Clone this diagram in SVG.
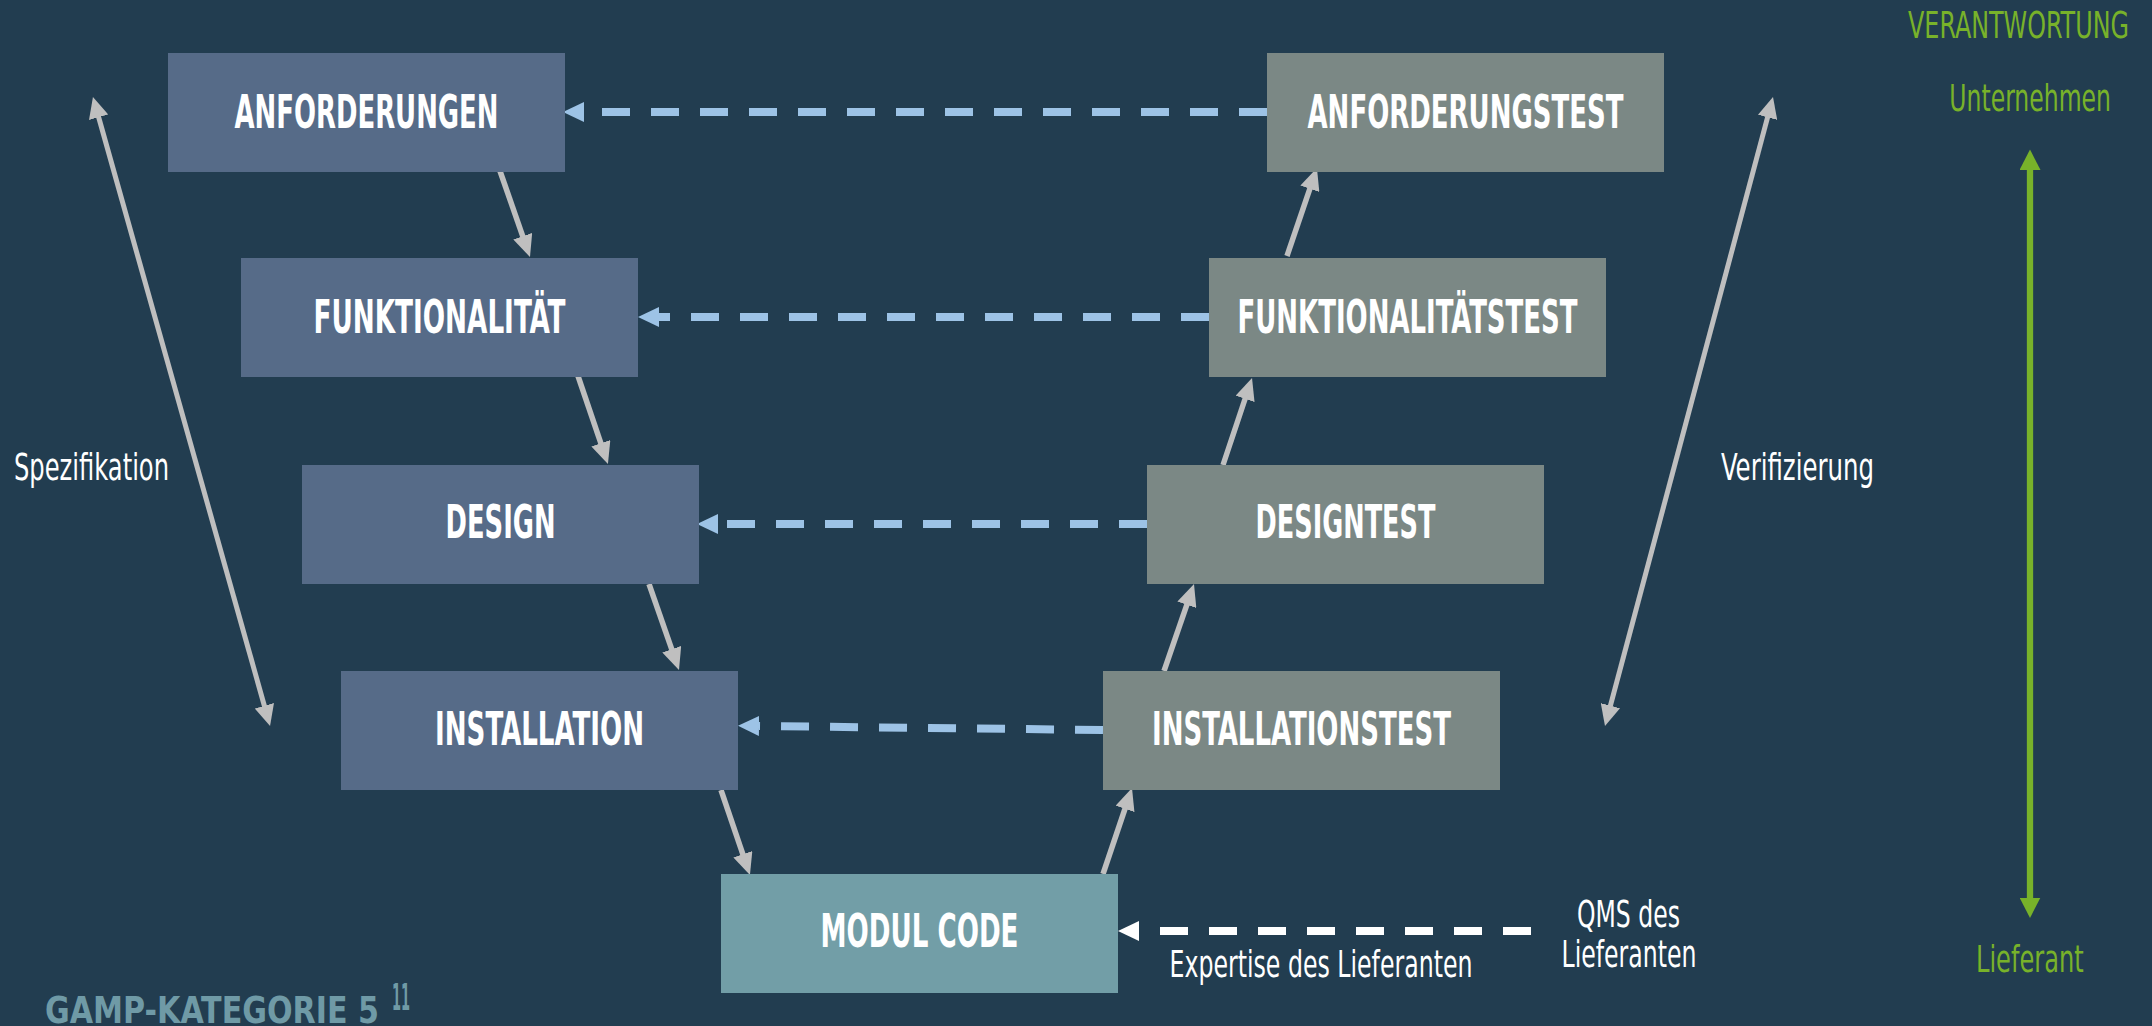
<svg xmlns="http://www.w3.org/2000/svg" width="2152" height="1026" viewBox="0 0 2152 1026">
<style>
.bg{fill:#223d50}
.spec{fill:#566b88}
.test{fill:#7b8885}
.code{fill:#729ea7}
.lbl{font-family:"Liberation Sans Narrow","DejaVu Sans Condensed","Liberation Sans",sans-serif;font-weight:bold;font-size:45.5px;fill:#ffffff;text-anchor:middle}
.txt{font-family:"Liberation Sans Narrow","DejaVu Sans Condensed","Liberation Sans",sans-serif;font-size:38px;fill:#ffffff}
.grn{fill:#78b22a}
.flow{stroke:#bfbfbf;stroke-width:5.5;fill:none;marker-end:url(#gh)}
.span{stroke:#bfbfbf;stroke-width:5;fill:none;marker-start:url(#gh2);marker-end:url(#gh2)}
.dash{stroke:#9dc3e6;stroke-width:8;stroke-dasharray:28 21;fill:none;marker-end:url(#bh)}
.wdash{stroke:#ffffff;stroke-width:8;stroke-dasharray:28 21;fill:none;marker-end:url(#wh)}
.resp{stroke:#78b22a;stroke-width:6.3;fill:none;marker-start:url(#grh);marker-end:url(#grh)}
</style>
<defs>
<marker id="gh" markerUnits="userSpaceOnUse" markerWidth="22" markerHeight="20" refX="2" refY="10" orient="auto"><path d="M0,0 L22,10 L0,20 z" fill="#bfbfbf"/></marker>
<marker id="gh2" markerUnits="userSpaceOnUse" markerWidth="21" markerHeight="20" refX="2" refY="10" orient="auto-start-reverse"><path d="M0,0 L21,10 L0,20 z" fill="#bfbfbf"/></marker>
<marker id="bh" markerUnits="userSpaceOnUse" markerWidth="21" markerHeight="20" refX="0" refY="10" orient="auto"><path d="M0,0 L21,10 L0,20 z" fill="#9dc3e6"/></marker>
<marker id="wh" markerUnits="userSpaceOnUse" markerWidth="21" markerHeight="20" refX="0" refY="10" orient="auto"><path d="M0,0 L21,10 L0,20 z" fill="#ffffff"/></marker>
<marker id="grh" markerUnits="userSpaceOnUse" markerWidth="21" markerHeight="21" refX="2" refY="10.5" orient="auto-start-reverse"><path d="M0,0 L20.5,10.5 L0,21 z" fill="#78b22a"/></marker>
</defs>
<rect class="bg" x="0" y="0" width="2152" height="1026"/>

<g id="connectors">
<line class="flow" x1="500" y1="171" x2="523.4" y2="238.1"/>
<line class="flow" x1="578" y1="376" x2="601.5" y2="445.1"/>
<line class="flow" x1="649" y1="584" x2="672.4" y2="651.1"/>
<line class="flow" x1="721" y1="790" x2="743.5" y2="856.1"/>
<line class="flow" x1="1103" y1="874" x2="1125.6" y2="807"/>
<line class="flow" x1="1164" y1="671" x2="1187.5" y2="602.9"/>
<line class="flow" x1="1223" y1="465" x2="1245.7" y2="397"/>
<line class="flow" x1="1287" y1="256" x2="1310.5" y2="186.9"/>
<line class="dash" x1="1267" y1="112" x2="584" y2="112"/>
<line class="dash" x1="1209" y1="317" x2="659" y2="317"/>
<line class="dash" x1="1147" y1="524" x2="718" y2="524"/>
<line class="dash" x1="1103" y1="730" x2="759" y2="726"/>
<line class="wdash" x1="1531" y1="931" x2="1139" y2="931"/>
<line class="span" x1="98.1" y1="115.3" x2="264.9" y2="707.7"/>
<line class="span" x1="1768.1" y1="115.4" x2="1609.9" y2="707.6"/>
<line class="resp" x1="2030" y1="168" x2="2030" y2="899.5"/>
</g>

<g id="anforderungen"><rect class="spec" x="168" y="53" width="397" height="119"/><text class="lbl" x="366.5" y="127.5" textLength="264" lengthAdjust="spacingAndGlyphs">ANFORDERUNGEN</text></g>
<g id="funktionalitaet"><rect class="spec" x="241" y="258" width="397" height="119"/><text class="lbl" x="439.5" y="332.5" textLength="252" lengthAdjust="spacingAndGlyphs">FUNKTIONALITÄT</text></g>
<g id="design"><rect class="spec" x="302" y="465" width="397" height="119"/><text class="lbl" x="500.5" y="538" textLength="110" lengthAdjust="spacingAndGlyphs">DESIGN</text></g>
<g id="installation"><rect class="spec" x="341" y="671" width="397" height="119"/><text class="lbl" x="539.5" y="744.5" textLength="209" lengthAdjust="spacingAndGlyphs">INSTALLATION</text></g>
<g id="modulcode"><rect class="code" x="721" y="874" width="397" height="119"/><text class="lbl" x="919.5" y="947" textLength="198" lengthAdjust="spacingAndGlyphs">MODUL CODE</text></g>
<g id="anforderungstest"><rect class="test" x="1267" y="53" width="397" height="119"/><text class="lbl" x="1465.5" y="127.5" textLength="316" lengthAdjust="spacingAndGlyphs">ANFORDERUNGSTEST</text></g>
<g id="funktionalitaetstest"><rect class="test" x="1209" y="258" width="397" height="119"/><text class="lbl" x="1407.5" y="332.5" textLength="340" lengthAdjust="spacingAndGlyphs">FUNKTIONALITÄTSTEST</text></g>
<g id="designtest"><rect class="test" x="1147" y="465" width="397" height="119"/><text class="lbl" x="1345.5" y="538" textLength="180" lengthAdjust="spacingAndGlyphs">DESIGNTEST</text></g>
<g id="installationstest"><rect class="test" x="1103" y="671" width="397" height="119"/><text class="lbl" x="1301.5" y="744.5" textLength="299" lengthAdjust="spacingAndGlyphs">INSTALLATIONSTEST</text></g>

<g id="labels">
<text class="txt" x="14" y="480" textLength="155" lengthAdjust="spacingAndGlyphs">Spezifikation</text>
<text class="txt" x="1721" y="480" textLength="153" lengthAdjust="spacingAndGlyphs">Verifizierung</text>
<text class="txt" x="1169.5" y="976.5" font-size="37" textLength="303" lengthAdjust="spacingAndGlyphs">Expertise des Lieferanten</text>
<text class="txt" x="1577" y="927" textLength="103" lengthAdjust="spacingAndGlyphs">QMS des</text>
<text class="txt" x="1561.5" y="966.5" textLength="135" lengthAdjust="spacingAndGlyphs">Lieferanten</text>
<text class="txt grn" x="1908" y="38.3" font-size="37.5" textLength="221" lengthAdjust="spacingAndGlyphs">VERANTWORTUNG</text>
<text class="txt grn" x="1949.3" y="110.7" textLength="161.7" lengthAdjust="spacingAndGlyphs">Unternehmen</text>
<text class="txt grn" x="1976" y="971.7" textLength="107.7" lengthAdjust="spacingAndGlyphs">Lieferant</text>
<text class="txt" x="45" y="1023" font-size="48.5" font-weight="bold" style="fill:#6f9aa6" textLength="334" lengthAdjust="spacingAndGlyphs">GAMP-KATEGORIE 5</text>
<text class="txt" x="392" y="1010" font-size="21" font-weight="bold" style="fill:#6f9aa6" textLength="18" lengthAdjust="spacingAndGlyphs">11</text>
</g>
</svg>
